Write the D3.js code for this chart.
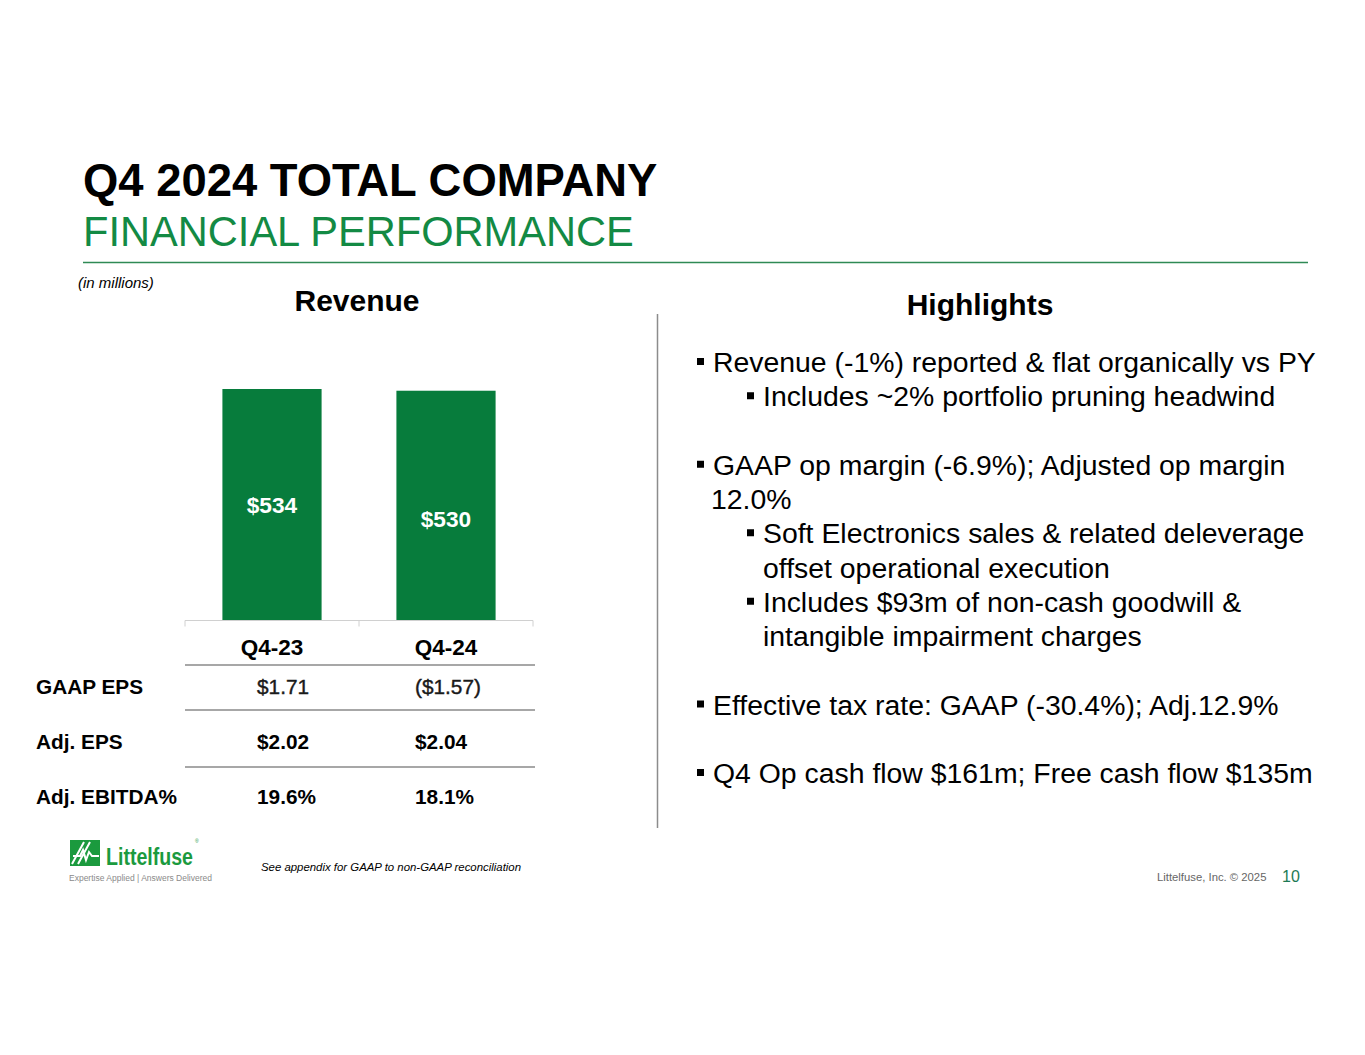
<!DOCTYPE html>
<html>
<head>
<meta charset="utf-8">
<script src="https://cdn.jsdelivr.net/npm/d3@7"></script>
<style>
  body { margin: 0; background: #fff; }
  text { font-family: "Liberation Sans", Arial, sans-serif; }
</style>
</head>
<body>
<svg></svg>
<script>
const WIDTH = 1365;
const HEIGHT = 1055;

const GREEN = "#077c3c";
const GREEN_TEXT = "#138a44";

// data
const categories = ["Q4-23", "Q4-24"];
const revenue = [534, 530];
const revenueLabels = ["$534", "$530"];

const rowNames = ["GAAP EPS", "Adj. EPS", "Adj. EBITDA%"];
const q423Values = ["$1.71", "$2.02", "19.6%"];
const q424Values = ["($1.57)", "$2.04", "18.1%"];
const rowBold = [false, true, true];

const highlightText = [
    "Revenue (-1%) reported & flat organically vs PY",
    "Includes ~2% portfolio pruning headwind",
    "",
    "GAAP op margin (-6.9%); Adjusted op margin",
    "12.0%",
    "Soft Electronics sales & related deleverage",
    "offset operational execution",
    "Includes $93m of non-cash goodwill &",
    "intangible impairment charges",
    "",
    "Effective tax rate: GAAP (-30.4%); Adj.12.9%",
    "",
    "Q4 Op cash flow $161m; Free cash flow $135m"
];
const highlightLevel = [1, 2, 0, 1, 1, 2, 2, 2, 2, 0, 1, 0, 1];
const highlightBullet = [true, true, false, true, false, true, false, true, false, false, true, false, true];

var svg = d3.select("svg")
    .attr("width", WIDTH)
    .attr("height", HEIGHT);

svg.append("rect")
    .attr("width", WIDTH)
    .attr("height", HEIGHT)
    .attr("fill", "#fff");

// header
svg.append("text")
    .attr("x", 83).attr("y", 196)
    .style("font-size", "45.4px").style("font-weight", "bold")
    .attr("fill", "#000")
    .text("Q4 2024 TOTAL COMPANY");

svg.append("text")
    .attr("x", 83).attr("y", 246)
    .style("font-size", "41.6px")
    .attr("fill", GREEN_TEXT)
    .text("FINANCIAL PERFORMANCE");

svg.append("line")
    .attr("x1", 83).attr("x2", 1308)
    .attr("y1", 262.5).attr("y2", 262.5)
    .attr("stroke", "#2f8a55").attr("stroke-width", 1.5);

svg.append("text")
    .attr("x", 78).attr("y", 288)
    .style("font-size", "15px").style("font-style", "italic")
    .text("(in millions)");

svg.append("text")
    .attr("x", 357).attr("y", 311)
    .attr("text-anchor", "middle")
    .style("font-size", "30px").style("font-weight", "bold")
    .text("Revenue");

svg.append("text")
    .attr("x", 980).attr("y", 315)
    .attr("text-anchor", "middle")
    .style("font-size", "30px").style("font-weight", "bold")
    .text("Highlights");

svg.append("line")
    .attr("x1", 657.5).attr("x2", 657.5)
    .attr("y1", 314).attr("y2", 828)
    .attr("stroke", "#8c8c8c").attr("stroke-width", 1.5);

// revenue chart
const BASE_Y = 620;
var x = d3.scaleBand()
    .domain(categories)
    .range([185, 533])
    .paddingInner(0.43)
    .paddingOuter(0.215);

var y = d3.scaleLinear()
    .domain([0, 534])
    .range([BASE_Y, 389]);

var chart = svg.append("g");

chart.selectAll("rect.bar")
    .data(revenue)
    .join("rect")
    .attr("class", "bar")
    .attr("x", (d, i) => x(categories[i]))
    .attr("y", d => y(d))
    .attr("width", x.bandwidth())
    .attr("height", d => BASE_Y - y(d))
    .attr("fill", GREEN);

// value labels sit slightly differently in each bar
const labelDy = [8, 22];
chart.selectAll("text.val")
    .data(revenue)
    .join("text")
    .attr("class", "val")
    .attr("x", (d, i) => x(categories[i]) + x.bandwidth() / 2)
    .attr("y", (d, i) => (y(d) + BASE_Y) / 2 + labelDy[i])
    .attr("text-anchor", "middle")
    .style("font-size", "22.7px").style("font-weight", "bold")
    .attr("fill", "#fff")
    .text((d, i) => revenueLabels[i]);

var xAxis = d3.axisBottom(x).tickSize(0).tickFormat("");
var axisG = chart.append("g")
    .attr("transform", `translate(0,${BASE_Y + 0.5})`)
    .call(xAxis);
axisG.select(".domain").attr("stroke", "#d0d0d0").attr("d", "M185,6V0H533V6");
axisG.append("line")
    .attr("x1", 359).attr("x2", 359).attr("y1", 0).attr("y2", 6)
    .attr("stroke", "#d0d0d0");

chart.selectAll("text.cat")
    .data(categories)
    .join("text")
    .attr("class", "cat")
    .attr("x", d => x(d) + x.bandwidth() / 2)
    .attr("y", 655)
    .attr("text-anchor", "middle")
    .style("font-size", "22.5px").style("font-weight", "bold")
    .text(d => d);

// table
const rowLineY = [665, 710, 767];
svg.selectAll("line.rowline")
    .data(rowLineY)
    .join("line")
    .attr("class", "rowline")
    .attr("x1", 185).attr("x2", 535)
    .attr("y1", d => d).attr("y2", d => d)
    .attr("stroke", "#8a8a8a").attr("stroke-width", 1.5);

const rowY = d3.scalePoint().domain(rowNames).range([694, 804]);
var rows = svg.selectAll("g.row")
    .data(rowNames)
    .join("g")
    .attr("class", "row")
    .attr("transform", d => `translate(0,${rowY(d)})`);

rows.append("text")
    .attr("x", 36)
    .style("font-size", "20.8px").style("font-weight", "bold")
    .text(d => d);
rows.append("text")
    .attr("x", 257)
    .style("font-size", "20.8px")
    .style("font-weight", (d, i) => rowBold[i] ? "bold" : "normal")
    .attr("fill", (d, i) => rowBold[i] ? "#000" : "#1a1a1a")
    .attr("stroke", (d, i) => rowBold[i] ? "none" : "#1a1a1a")
    .attr("stroke-width", 0.4)
    .text((d, i) => q423Values[i]);
rows.append("text")
    .attr("x", 415)
    .style("font-size", "20.8px")
    .style("font-weight", (d, i) => rowBold[i] ? "bold" : "normal")
    .attr("fill", (d, i) => rowBold[i] ? "#000" : "#1a1a1a")
    .attr("stroke", (d, i) => rowBold[i] ? "none" : "#1a1a1a")
    .attr("stroke-width", 0.4)
    .text((d, i) => q424Values[i]);

// highlights
const LINE_H = 34.25;
var hl = svg.append("g");
highlightText.forEach((t, i) => {
    if (!t) return;
    let by = 372 + i * LINE_H;
    let tx = highlightLevel[i] === 2 ? 763 : 713;
    if (highlightBullet[i]) {
        hl.append("rect")
            .attr("x", tx - 16).attr("y", by - 14)
            .attr("width", 7).attr("height", 7)
            .attr("fill", "#000");
    }
    if (t === "12.0%") tx = 711;
    hl.append("text")
        .attr("x", tx).attr("y", by)
        .style("font-size", "28.4px")
        .text(t);
});

// footer
var logo = svg.append("g");
logo.append("rect")
    .attr("x", 70).attr("y", 840).attr("width", 30).attr("height", 26)
    .attr("fill", "#1b9a3e");
logo.append("path")
    .attr("d", "M72,864 L84,842 M78,864 L90,842 M73,856 L80,856 L83,850 L86,860 L89,852 L92,856 L99,856")
    .attr("stroke", "#fff").attr("stroke-width", 2).attr("fill", "none");
logo.append("text")
    .attr("x", 106).attr("y", 865)
    .style("font-size", "24px").style("font-weight", "bold")
    .attr("textLength", 87).attr("lengthAdjust", "spacingAndGlyphs")
    .attr("fill", "#1b9a3e")
    .text("Littelfuse");
logo.append("text")
    .attr("x", 195).attr("y", 843)
    .style("font-size", "5px")
    .attr("fill", "#1b9a3e")
    .text("®");
logo.append("text")
    .attr("x", 69).attr("y", 881)
    .style("font-size", "8.5px")
    .attr("textLength", 143).attr("lengthAdjust", "spacingAndGlyphs")
    .attr("fill", "#8a8a8a")
    .text("Expertise Applied  |  Answers Delivered");

svg.append("text")
    .attr("x", 261).attr("y", 871)
    .style("font-size", "11.4px").style("font-style", "italic")
    .text("See appendix for GAAP to non-GAAP reconciliation");

svg.append("text")
    .attr("x", 1157).attr("y", 881)
    .style("font-size", "11.3px")
    .attr("fill", "#666")
    .text("Littelfuse, Inc. © 2025");

svg.append("text")
    .attr("x", 1282).attr("y", 882)
    .style("font-size", "16px")
    .attr("fill", "#1d7a55")
    .text("10");
</script>
</body>
</html>
